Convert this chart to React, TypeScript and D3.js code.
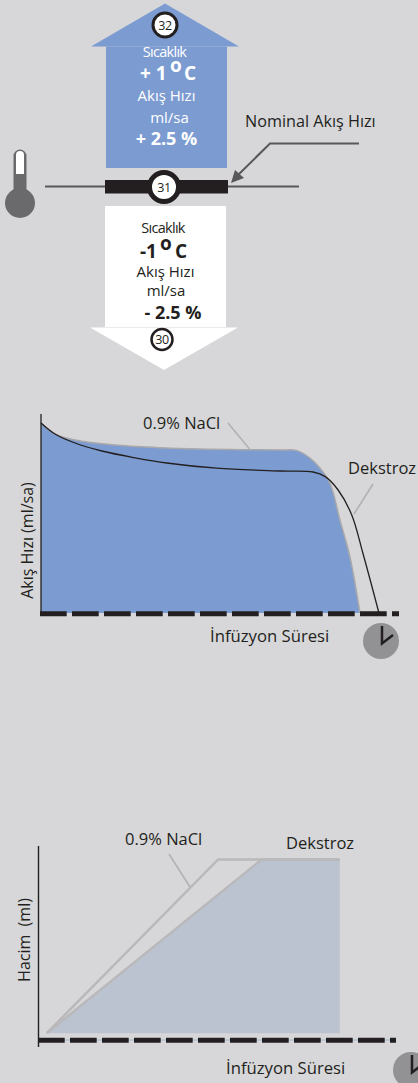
import React from 'react';
import * as d3 from 'd3';

// Flow rate chart (time and rate in % of the axis)
const naclFlowTime = [0, 3.9, 9.5, 20.7, 31.8, 52.8, 66.8, 71.5, 75.1, 77.9, 80.7, 83.5, 86.3, 89.1];
const naclFlowRate = [95, 89.5, 86.5, 84, 82.8, 81.7, 81.5, 81.2, 77.5, 72.5, 65, 46.5, 28, 0];
const dextroseFlowTime = [0, 3.9, 9.5, 17, 26.3, 35.1, 49.1, 66.8, 76, 79.4, 83, 86.8, 89.9, 94.4];
const dextroseFlowRate = [95, 89.5, 85, 81, 77.6, 75, 72.4, 71, 70.5, 68.2, 61.5, 49, 30, 0];

// Volume chart
const naclVolumeTime = [2.3, 49.9, 83.7];
const naclVolumeValue = [3.5, 93.1, 93.1];
const dextroseVolumeTime = [2.3, 62, 83.7];
const dextroseVolumeValue = [3.5, 93.1, 93.1];

const upperLines = ['Sıcaklık', 'Akış Hızı', 'ml/sa'];
const changeUp = ['+ 1', '+ 2.5 %'];
const changeDown = ['-1', '- 2.5 %'];

const BG = '#d7d7d9';
const BLUE = '#7b9bd1';
const SLATE = '#bcc3d0';
const LEADER = '#b0b0b0';
const DARK = '#231f20';
const GRAY = '#6a6a6d';
const FONT = '"Open Sans", sans-serif';

const zip = (xs: number[], ys: number[]): [number, number][] => xs.map((x, i) => [x, ys[i]]);

const Badge = ({ cx, cy, r, sw, label, size }: { cx: number; cy: number; r: number; sw: number; label: string; size: number }) => (
  <g>
    <circle cx={cx} cy={cy} r={r} fill="#fff" stroke={DARK} strokeWidth={sw} />
    <text x={cx} y={cy + size * 0.36} textAnchor="middle" fontSize={size} fill={DARK} letterSpacing={-0.5}>{label}</text>
  </g>
);

const Clock = ({ cx, cy }: { cx: number; cy: number }) => (
  <g>
    <circle cx={cx} cy={cy} r={18} fill="#929295" />
    <path d={`M${cx + 1},${cy - 15}V${cy + 2.5}L${cx + 12},${cy - 6}`} fill="none" stroke={DARK} strokeWidth={2.5} />
  </g>
);

const DashAxis = ({ x1, x2, y }: { x1: number; x2: number; y: number }) => (
  <line x1={x1} x2={x2} y1={y} y2={y} stroke={DARK} strokeWidth={5} strokeDasharray="26.7 5.3" />
);

// "+ 1 o C" kept as one text, the degree mark lifted with dy
const Degree = ({ x, oX, cX, y, label }: { x: number; oX: number; cX: number; y: number; label: string }) => (
  <text x={x} y={y} fontSize={19} fontWeight={700}>
    {label}
    <tspan x={oX} dy={-8}>o</tspan>
    <tspan x={cX} dy={8}>C</tspan>
  </text>
);

export default function App() {
  // flow rate chart
  const curve = d3.curveCatmullRom.alpha(0.5);
  const flowX = d3.scaleLinear().domain([0, 100]).range([41, 399]);
  const flowY = d3.scaleLinear().domain([0, 100]).range([613, 413]);
  const flowLine = d3.line<[number, number]>().x((d) => flowX(d[0])).y((d) => flowY(d[1])).curve(curve);
  const flowArea = d3.area<[number, number]>().x((d) => flowX(d[0])).y0(flowY(0)).y1((d) => flowY(d[1])).curve(curve);
  const naclFlow = zip(naclFlowTime, naclFlowRate);
  const dextroseFlow = zip(dextroseFlowTime, dextroseFlowRate);

  // volume chart
  const volX = d3.scaleLinear().domain([0, 100]).range([38.5, 398.5]);
  const volY = d3.scaleLinear().domain([0, 100]).range([1040, 846]);
  const volLine = d3.line<[number, number]>().x((d) => volX(d[0])).y((d) => volY(d[1]));
  const volArea = d3.area<[number, number]>().x((d) => volX(d[0])).y0(volY(dextroseVolumeValue[0])).y1((d) => volY(d[1]));
  const naclVolume = zip(naclVolumeTime, naclVolumeValue);
  const dextroseVolume = zip(dextroseVolumeTime, dextroseVolumeValue);

  return (
    <svg
      width={418}
      height={1083}
      viewBox="0 0 418 1083"
      fontFamily={FONT}
      style={{ position: 'absolute', left: 0, top: 0, display: 'block' }}
    >
      <rect width={418} height={1083} fill={BG} />

      {/* temperature arrows */}
      <path d="M91,46.5L165,3.5L239,46.5Z" fill={BLUE} />
      <rect x={106} y={46.5} width={121} height={121.5} fill={BLUE} />
      <rect x={105} y={206} width={121} height={121} fill="#fff" />
      <path d="M90,327.5H238L164,370Z" fill="#fff" />

      <g fill="#fff" textAnchor="middle">
        <text x={164.5} y={57} fontSize={14.5} letterSpacing={-0.7}>{upperLines[0]}</text>
        <text x={166.5} y={101} fontSize={15}>{upperLines[1]}</text>
        <text x={169.5} y={123} fontSize={15}>{upperLines[2]}</text>
        <text x={166.5} y={145} fontSize={18} fontWeight={700}>{changeUp[1]}</text>
      </g>
      <g fill="#fff">
        <Degree x={140} oX={170} cX={184} y={80} label={changeUp[0]} />
      </g>
      <g fill={DARK} textAnchor="middle">
        <text x={163} y={233} fontSize={14.5} letterSpacing={-0.7}>{upperLines[0]}</text>
        <text x={165.5} y={277} fontSize={15}>{upperLines[1]}</text>
        <text x={166} y={296} fontSize={15}>{upperLines[2]}</text>
        <text x={173} y={319} fontSize={18} fontWeight={700}>{changeDown[1]}</text>
      </g>
      <g fill={DARK}>
        <Degree x={140} oX={160} cX={175} y={258} label={changeDown[0]} />
      </g>

      {/* nominal line */}
      <line x1={45} x2={299} y1={186.5} y2={186.5} stroke="#58585a" strokeWidth={2} />
      <rect x={105} y={180} width={123} height={13.5} fill={DARK} />
      <Badge cx={165} cy={25} r={12} sw={3} label="32" size={12.5} />
      <Badge cx={164} cy={187} r={14.5} sw={5} label="31" size={12.5} />
      <Badge cx={162} cy={339.5} r={10.5} sw={2.5} label="30" size={12.5} />

      <text x={245} y={127} fontSize={16.2} fill={DARK}>Nominal Akış Hızı</text>
      <path d="M359,143.5H270L237,176" fill="none" stroke="#58585a" strokeWidth={2} />
      <path d="M231,183L235,170L244,178Z" fill="#58585a" />

      {/* thermometer */}
      <path d="M13.5,190V156a6.5,6.5 0 0 1 13,0V190Z" fill={GRAY} />
      <circle cx={20} cy={203} r={15} fill={GRAY} />
      <path d="M16,174V155a4,4 0 0 1 8,0V174Z" fill="#fff" />

      {/* flow rate chart */}
      <path d={flowArea(naclFlow) ?? ''} fill={BLUE} />
      <path d={flowLine(naclFlow) ?? ''} fill="none" stroke="#a9a9ab" strokeWidth={1.5} />
      <path d={flowLine(dextroseFlow) ?? ''} fill="none" stroke={DARK} strokeWidth={1.3} />
      <line x1={41} x2={41} y1={414} y2={613} stroke={DARK} strokeWidth={1.3} />
      <DashAxis x1={40} x2={399} y={613.7} />
      <line x1={228} y1={423} x2={249.5} y2={449} stroke={LEADER} strokeWidth={1.5} />
      <line x1={373} y1={484} x2={354} y2={514} stroke={LEADER} strokeWidth={1.5} />
      <text x={143} y={429} fontSize={16.5} fill={DARK}>0.9% NaCl</text>
      <text x={348} y={474} fontSize={16.5} fill={DARK}>Dekstroz</text>
      <text transform="translate(33,540.5) rotate(-90)" textAnchor="middle" fontSize={16} fill={DARK}>Akış Hızı (ml/sa)</text>
      <text x={210} y={642} fontSize={16.7} fill={DARK}>İnfüzyon Süresi</text>
      <Clock cx={381} cy={641} />

      {/* volume chart */}
      <path d={volArea(dextroseVolume) ?? ''} fill={SLATE} />
      <path d={volLine(naclVolume) ?? ''} fill="none" stroke="#b9b9bb" strokeWidth={2.5} />
      <path d={volLine(dextroseVolume) ?? ''} fill="none" stroke="#b9b9bb" strokeWidth={2.5} />
      <line x1={38.5} x2={38.5} y1={846} y2={1047} stroke={DARK} strokeWidth={1.4} />
      <line x1={38} x2={396} y1={1040} y2={1040} stroke="#9cb8cf" strokeWidth={1} />
      <DashAxis x1={38} x2={396} y={1040.3} />
      <line x1={169} y1={854} x2={190} y2={887} stroke={LEADER} strokeWidth={1.5} />
      <text x={125} y={845} fontSize={16.5} fill={DARK}>0.9% NaCl</text>
      <text x={286} y={849} fontSize={16.5} fill={DARK}>Dekstroz</text>
      <text transform="translate(30,940) rotate(-90)" textAnchor="middle" fontSize={16} fill={DARK} style={{ whiteSpace: 'pre' }}>Hacim  (ml)</text>
      <text x={226} y={1074} fontSize={16.7} fill={DARK}>İnfüzyon Süresi</text>
      <Clock cx={411} cy={1070} />
    </svg>
  );
}
